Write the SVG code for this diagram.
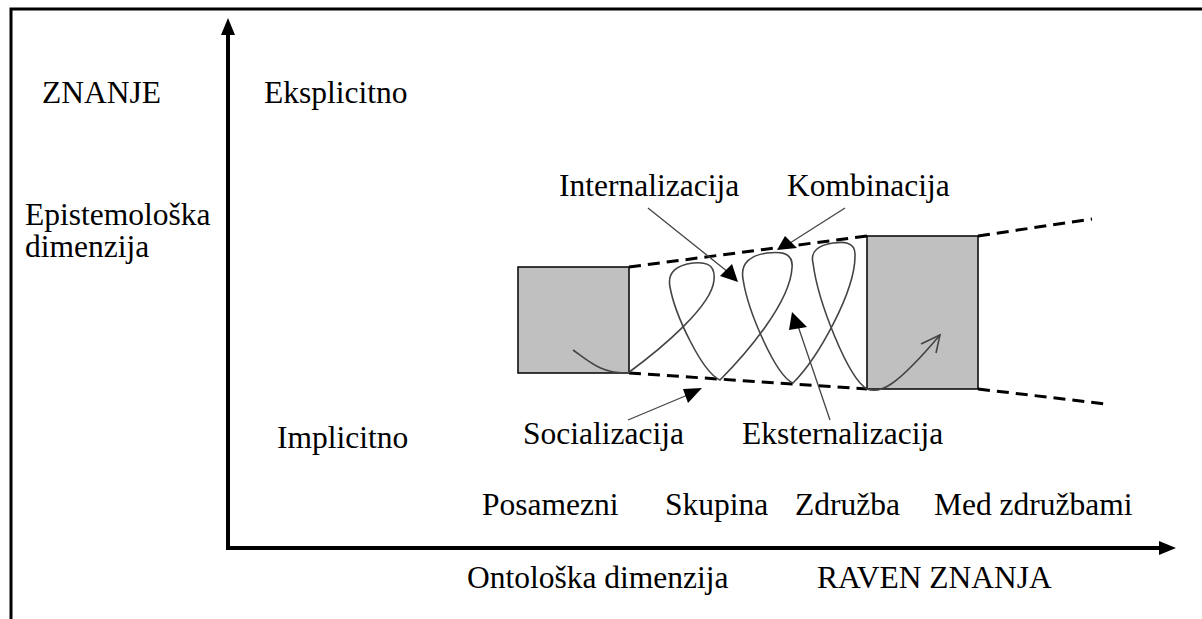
<svg xmlns="http://www.w3.org/2000/svg" width="1202" height="619" viewBox="0 0 1202 619">
<defs>
<style>
text{font-family:'Liberation Serif','Times New Roman','DejaVu Serif',serif;font-size:31.5px;fill:#000}
.frame{fill:none;stroke:#000;stroke-width:3}
.axis{fill:none;stroke:#000;stroke-width:4}
.box{fill:#c0c0c0;stroke:#000;stroke-width:1.5}
.dash{fill:none;stroke:#000;stroke-width:3;stroke-dasharray:12 7}
.spiral{fill:none;stroke:#444;stroke-width:1.6}
.lbl{fill:none;stroke:#444;stroke-width:1.3}
.tri{fill:#000;stroke:none}
</style>
</defs>
<rect width="1202" height="619" fill="#fff"/>
<g id="frame">
<path class="frame" d="M11,619 L11,9 L1202,9"/>
</g>
<g id="axes">
<path class="axis" d="M228,34 L228,548 L1160,548"/>
<polygon class="tri" points="228,18 221,35 235,35"/>
<polygon class="tri" points="1176,548 1159,541 1159,555"/>
</g>
<g id="labels-axes" font-family="Liberation Serif, Times New Roman, DejaVu Serif, serif">
<text x="42" y="103">ZNANJE</text>
<text x="264" y="103">Eksplicitno</text>
<text x="25" y="225">Epistemološka</text>
<text x="25" y="257">dimenzija</text>
<text x="277" y="448">Implicitno</text>
<text x="482" y="515">Posamezni</text>
<text x="665" y="515">Skupina</text>
<text x="795" y="515">Združba</text>
<text x="934" y="515">Med združbami</text>
<text x="467" y="588">Ontološka dimenzija</text>
<text x="817" y="588">RAVEN ZNANJA</text>
</g>
<g id="box-left"><rect class="box" x="518" y="267" width="111" height="106"/></g>
<g id="box-right"><rect class="box" x="867" y="236" width="111" height="153"/></g>
<g id="connectors" font-family="Liberation Serif, Times New Roman, DejaVu Serif, serif">
<path class="dash" d="M629,267 L867,236"/>
<path class="dash" d="M978,236 L1092,219"/>
<path class="dash" d="M629,373 L867,389"/>
<path class="dash" d="M978,389 L1106,404"/>
<path class="spiral" d="M573,350 C590,362 602,374 628,373 C662,348 712,306 714,280 C716,262 702,262 693,263 C677,265 667,272 670,287 C675,315 702,372 720,380 C748,352 790,302 792,268 C794,250 776,252 767,253 C752,255 740,262 743,279 C748,312 776,376 793,383 C818,358 855,292 855,256 C856,240 841,242 833,243 C819,245 810,251 813,263 C818,302 848,378 867,389 C880,394 895,388 940,335"/>
<path class="spiral" d="M921,344 L940,335 L936,353"/>
<path class="lbl" d="M648,208 L728,272"/>
<polygon class="tri" points="738,282 720,276 732,264"/>
<path class="lbl" d="M845,208 L790,243"/>
<polygon class="tri" points="777,250 785,236 797,248"/>
<path class="lbl" d="M628,420 L690,394"/>
<polygon class="tri" points="702,388 683,389 688,403"/>
<path class="lbl" d="M830,420 L798,326"/>
<polygon class="tri" points="792,312 789,330 807,327"/>
<text x="559" y="196">Internalizacija</text>
<text x="787" y="196">Kombinacija</text>
<text x="523" y="444">Socializacija</text>
<text x="742" y="444">Eksternalizacija</text>
</g>
</svg>
